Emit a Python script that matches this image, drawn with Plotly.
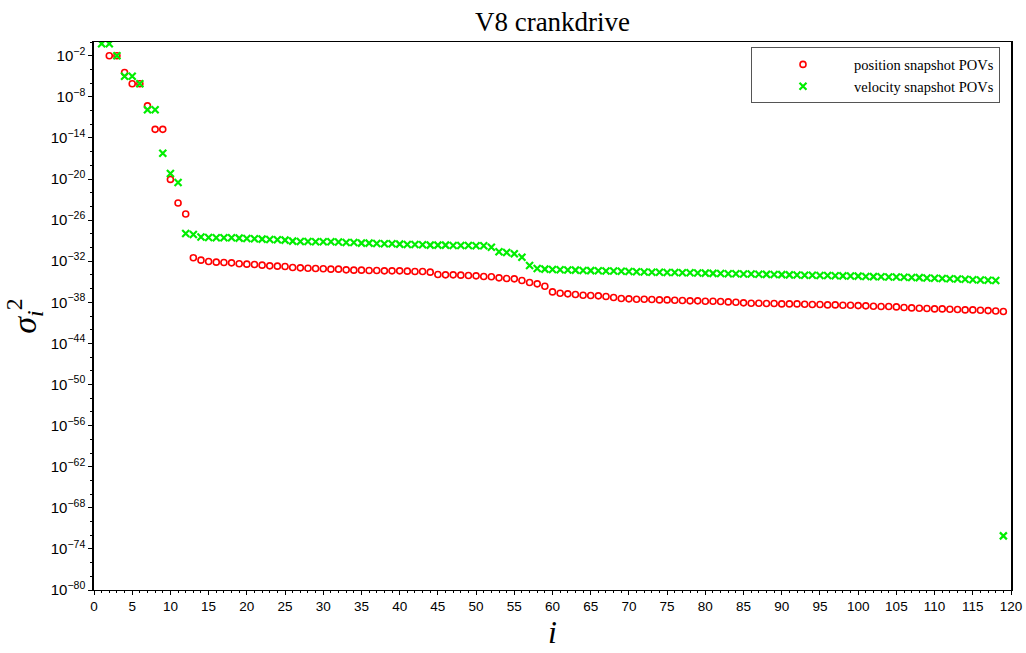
import plotly.graph_objects as go

# indices
idx = list(range(1, 120))

# log10 of sigma_i^2, position snapshot POVs
pos_log = [
    0.6, -2.0, -2.0, -4.46, -6.1, -6.1, -9.33, -12.75, -12.75, -20.06,
    -23.5, -25.1, -31.5, -31.85, -32.04, -32.14, -32.19, -32.24, -32.38, -32.43,
    -32.48, -32.58, -32.68, -32.72, -32.77, -32.92, -32.97, -33.02, -33.07, -33.11,
    -33.16, -33.16, -33.26, -33.31, -33.31, -33.36, -33.36, -33.41, -33.41, -33.41,
    -33.45, -33.50, -33.50, -33.60, -33.94, -33.99, -33.99, -34.04, -34.09, -34.14,
    -34.24, -34.28, -34.43, -34.53, -34.58, -34.82, -35.11, -35.31, -35.65, -36.48,
    -36.67, -36.77, -36.87, -36.96, -37.01, -37.06, -37.16, -37.30, -37.45, -37.50,
    -37.55, -37.55, -37.60, -37.65, -37.65, -37.70, -37.74, -37.79, -37.79, -37.84,
    -37.84, -37.89, -37.94, -37.99, -38.08, -38.13, -38.13, -38.18, -38.18, -38.23,
    -38.23, -38.23, -38.28, -38.33, -38.33, -38.38, -38.38, -38.43, -38.43, -38.48,
    -38.52, -38.57, -38.62, -38.62, -38.67, -38.77, -38.82, -38.87, -38.91, -38.96,
    -38.96, -39.01, -39.06, -39.11, -39.11, -39.16, -39.21, -39.26, -39.35,
]

# log10 of sigma_i^2, velocity snapshot POVs
vel_log = [
    -0.25, -0.25, -2.0, -5.0, -5.0, -6.1, -9.9, -9.9, -16.25, -19.2,
    -20.5, -27.95, -28.1, -28.48, -28.53, -28.58, -28.58, -28.58, -28.63, -28.68,
    -28.73, -28.78, -28.83, -28.87, -28.92, -29.07, -29.12, -29.12, -29.17, -29.17,
    -29.17, -29.21, -29.26, -29.26, -29.36, -29.36, -29.41, -29.46, -29.46, -29.51,
    -29.56, -29.56, -29.61, -29.65, -29.65, -29.65, -29.70, -29.70, -29.70, -29.75,
    -29.75, -29.95, -30.63, -30.73, -30.92, -31.41, -32.63, -33.07, -33.16, -33.21,
    -33.26, -33.28, -33.30, -33.36, -33.38, -33.40, -33.42, -33.44, -33.46, -33.50,
    -33.55, -33.57, -33.60, -33.62, -33.64, -33.66, -33.68, -33.70, -33.72, -33.74,
    -33.78, -33.80, -33.82, -33.84, -33.86, -33.88, -33.90, -33.92, -33.94, -33.96,
    -34.00, -34.02, -34.04, -34.06, -34.08, -34.10, -34.12, -34.14, -34.16, -34.18,
    -34.22, -34.25, -34.27, -34.30, -34.32, -34.35, -34.38, -34.40, -34.45, -34.50,
    -34.53, -34.56, -34.60, -34.64, -34.70, -34.74, -34.78, -34.82, -72.1,
]

pos_vals = [10 ** v for v in pos_log]
vel_vals = [10 ** v for v in vel_log]

# axis ticks
x_ticks = list(range(0, 121, 5))
y_tick_exps = list(range(-80, 0, 6))  # -80, -74, ..., -2
y_tick_vals = [10.0 ** e for e in y_tick_exps]
y_tick_text = ["10<sup>−%d</sup>" % (-e) for e in y_tick_exps]
y_minor_vals = [10.0 ** e for e in range(-80, 1, 2)]

serif = "Liberation Serif, DejaVu Serif, serif"
sans = "Liberation Sans, Arial, sans-serif"

fig = go.Figure()
fig.add_trace(go.Scatter(
    x=idx, y=pos_vals, mode="markers", name="position snapshot POVs",
    marker=dict(symbol="circle-open", size=6, color="#ff0000",
                line=dict(width=1.6, color="#ff0000")),
))
fig.add_trace(go.Scatter(
    x=idx, y=vel_vals, mode="markers", name="velocity snapshot POVs",
    marker=dict(symbol="x-thin", size=7, color="#00ee00",
                line=dict(width=2.2, color="#00ee00")),
))

fig.update_layout(
    width=1026, height=653,
    margin=dict(l=94, r=15, t=42, b=63, autoexpand=False),
    paper_bgcolor="white", plot_bgcolor="white",
    title=dict(text="V8 crankdrive", xref="paper", x=0.5, xanchor="center",
               yref="container", y=1 - 22 / 653, yanchor="middle",
               font=dict(family=serif, size=27, color="black")),
    showlegend=True,
    legend=dict(x=0.988, y=0.99, xanchor="right", yanchor="top",
                bordercolor="#555555", borderwidth=1, bgcolor="white",
                font=dict(family=serif, size=14.5, color="black"),
                tracegroupgap=0, itemwidth=92),
    font=dict(family=sans, color="black"),
)

fig.update_xaxes(
    range=[0, 120], tickmode="array", tickvals=x_ticks, automargin=False,
    ticks="outside", ticklen=4, tickcolor="black", tickwidth=1,
    minor=dict(dtick=1, ticks="outside", ticklen=2, tickcolor="black", showgrid=False),
    showline=True, linecolor="black", linewidth=1, mirror=True,
    showgrid=False, zeroline=False,
    tickfont=dict(family=sans, size=13.5, color="black"),
    title=dict(text="<i>i</i>", font=dict(family=serif, size=32, color="black"), standoff=6),
)

fig.update_yaxes(
    type="log", range=[-80, 0], tickmode="array", automargin=False,
    tickvals=y_tick_vals, ticktext=y_tick_text,
    ticks="outside", ticklen=4, tickcolor="black", tickwidth=1,
    minor=dict(tickmode="array", tickvals=y_minor_vals, ticks="outside",
               ticklen=2, tickcolor="black", showgrid=False),
    showline=True, linecolor="black", linewidth=1.5, mirror=True,
    showgrid=False, zeroline=False,
    tickfont=dict(family=sans, size=15, color="black"),
    title=dict(text="<i>σ</i><sub><i>i</i></sub><sup>2</sup>",
               font=dict(family=serif, size=34, color="black"), standoff=4),
)

fig.write_html(
    "out.html",
    config={"responsive": False, "displayModeBar": False},
    post_script="document.body.style.margin='0';document.body.style.padding='0';"
                "document.body.style.overflow='hidden';",
)
